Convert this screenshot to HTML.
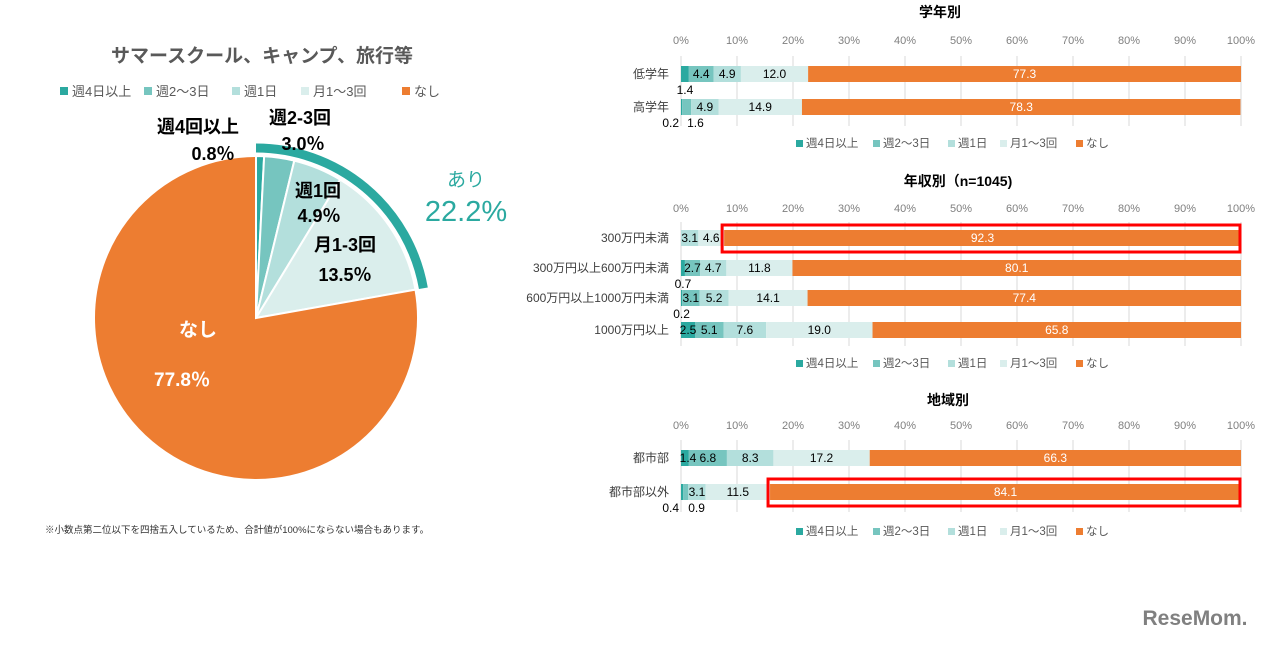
<!DOCTYPE html>
<html><head><meta charset="utf-8">
<style>
body{margin:0;background:#fff;width:1280px;height:642px;overflow:hidden;font-family:"Liberation Sans","Noto Sans CJK JP",sans-serif;}
svg text{font-family:"Liberation Sans","Noto Sans CJK JP",sans-serif;}
</style></head>
<body>
<svg id="chart" width="1280" height="642" viewBox="0 0 1280 642" xmlns="http://www.w3.org/2000/svg">
<text x="262" y="62" text-anchor="middle" font-size="19" font-weight="bold" fill="#595959">サマースクール、キャンプ、旅行等</text>
<g id="pieLegend"></g>
<g id="pie"></g>
<text x="198" y="133" text-anchor="middle" font-size="18" font-weight="bold" fill="#000">週4回以上</text>
<text x="213" y="160" text-anchor="middle" font-size="18" font-weight="bold" fill="#000">0.8％</text>
<text x="300" y="124" text-anchor="middle" font-size="18" font-weight="bold" fill="#000">週2-3回</text>
<text x="303" y="150" text-anchor="middle" font-size="18" font-weight="bold" fill="#000">3.0％</text>
<text x="318" y="197" text-anchor="middle" font-size="18" font-weight="bold" fill="#000">週1回</text>
<text x="319" y="222" text-anchor="middle" font-size="18" font-weight="bold" fill="#000">4.9％</text>
<text x="345" y="251" text-anchor="middle" font-size="18" font-weight="bold" fill="#000">月1-3回</text>
<text x="345" y="281" text-anchor="middle" font-size="18" font-weight="bold" fill="#000">13.5％</text>
<text x="198" y="336" text-anchor="middle" font-size="19" font-weight="bold" fill="#fff">なし</text>
<text x="182" y="386" text-anchor="middle" font-size="19" font-weight="bold" fill="#fff">77.8％</text>
<text x="466" y="186" text-anchor="middle" font-size="19" fill="#2BA9A0">あり</text>
<text x="466" y="221" text-anchor="middle" font-size="29" fill="#2BA9A0">22.2%</text>
<text x="45" y="533" font-size="9.5" fill="#333">※小数点第二位以下を四捨五入しているため、合計値が100%にならない場合もあります。</text>
<g id="bars"></g>
<text x="1195" y="625" text-anchor="middle" font-size="21" font-weight="bold" fill="#808080">ReseMom.</text>
</svg>
<script>
const seriesNames = ["週4日以上","週2〜3日","週1日","月1〜3回","なし"];
const colors = ["#2BA9A0","#76C5BF","#B3DFDC","#DAEEEC","#ED7D31"];
const pieValues = [0.8,3.0,4.9,13.5,77.8];
const pieLegendNames = ["週4日以上","週2〜3日","週1日","月1〜3回","なし"];
const gradeCats = ["低学年","高学年"];
const gradeVals = [[1.4,4.4,4.9,12.0,77.3],[0.2,1.6,4.9,14.9,78.3]];
const incomeCats = ["300万円未満","300万円以上600万円未満","600万円以上1000万円未満","1000万円以上"];
const incomeVals = [[0,0,3.1,4.6,92.3],[0.7,2.7,4.7,11.8,80.1],[0.2,3.1,5.2,14.1,77.4],[2.5,5.1,7.6,19.0,65.8]];
const regionCats = ["都市部","都市部以外"];
const regionVals = [[1.4,6.8,8.3,17.2,66.3],[0.4,0.9,3.1,11.5,84.1]];
const tickLabels = ["0%","10%","20%","30%","40%","50%","60%","70%","80%","90%","100%"];

const NS="http://www.w3.org/2000/svg";
function mk(tag,attrs,parent,txt){const e=document.createElementNS(NS,tag);for(const k in attrs)e.setAttribute(k,attrs[k]);if(txt!==undefined)e.textContent=txt;parent.appendChild(e);return e;}

const pl=document.getElementById('pieLegend');
const plx=[60,144,232,301,402];
pieLegendNames.forEach((n,i)=>{
  const r=mk('rect',{x:plx[i],y:87,width:8,height:8,fill:colors[i]},pl);
  
  
  const t=mk('text',{x:plx[i]+12,y:96,'font-size':13,fill:'#595959'},pl,n);
  
  
});

const pie=document.getElementById('pie');
const cx=256,cy=318,R=162;
const total=pieValues.reduce((a,b)=>a+b,0);
let acc=0;
function pt(a,r){return [cx+r*Math.sin(a),cy-r*Math.cos(a)];}
pieValues.forEach((v,i)=>{
  const a0=acc/total*2*Math.PI;acc+=v;const a1=acc/total*2*Math.PI;
  const p0=pt(a0,R),p1=pt(a1,R);const large=(a1-a0)>Math.PI?1:0;
  const p=mk('path',{d:`M${cx},${cy}L${p0[0]},${p0[1]}A${R},${R} 0 ${large} 1 ${p1[0]},${p1[1]}Z`,fill:colors[i],stroke:'#fff','stroke-width':2},pie);
  
  
});
const ariSum=pieValues.slice(0,4).reduce((a,b)=>a+b,0);
const aEnd=ariSum/total*2*Math.PI;const Ra=170;
const q0=pt(0,Ra),q1=pt(aEnd,Ra);
const arc=mk('path',{d:`M${q0[0]},${q0[1]}A${Ra},${Ra} 0 0 1 ${q1[0]},${q1[1]}`,fill:'none',stroke:'#2BA9A0','stroke-width':9},pie);



const bars=document.getElementById('bars');
const X0=681,X1=1241;
const xs=v=>X0+(X1-X0)*v/100;
function section(title,titleX,titleY,tickY,gridTop,gridBot,cats,vals,rowY,legY,name,insideFirst){
  const g=mk('g',{},bars);
  
  
  const t=mk('text',{x:titleX,y:titleY,'font-size':14,'font-weight':'bold',fill:'#000','text-anchor':'middle'},g,title);
  
  
  tickLabels.forEach((l,i)=>{
    const x=xs(i*10);
    const ln=mk('line',{x1:x,x2:x,y1:gridTop,y2:gridBot,stroke:'#d9d9d9','stroke-width':1},g);
    
    
    const tt=mk('text',{x:x,y:tickY,'font-size':11,fill:'#7f7f7f','text-anchor':'middle'},g,l);
    
    
  });
  const rectG=mk('g',{},g);
  const labG=mk('g',{},g);
  cats.forEach((c,ri)=>{
    const y=rowY[ri];
    const ct=mk('text',{x:X0-12,y:y+4,'font-size':12,fill:'#404040','text-anchor':'end'},g,c);
    
    
    let a=0;
    vals[ri].forEach((v,si)=>{
      const x0=xs(a);a+=v;const x1=xs(a);
      const r=mk('rect',{x:x0,y:y-8,width:Math.max(0,x1-x0),height:16,fill:colors[si]},rectG);
      
      
      if(v<=0)return;
      let lx=(x0+x1)/2,ly=y+4,anchor='middle',fill=si===4?'#fff':'#000';
      const inside = insideFirst && insideFirst[ri] && si===0;
      if(v<2 && !inside){ly=y+20;
        const nxt=vals[ri][si+1];
        if(si===0&&nxt<2&&nxt>0){lx=x0-2;anchor='end';}
        else if(si===1&&vals[ri][0]<2&&vals[ri][0]>0){lx=x0+5;anchor='start';}
      } else if(inside){lx=x0+7;}
      const vt=mk('text',{x:lx,y:ly,'font-size':12,fill:fill,'text-anchor':anchor},labG,v.toFixed(1));
      
      
    });
  });
  const lx=[796,873,948,1000,1076];
  seriesNames.forEach((n,i)=>{
    const r=mk('rect',{x:lx[i],y:legY-7,width:7,height:7,fill:colors[i]},g);
    
    
    const t2=mk('text',{x:lx[i]+10,y:legY,'font-size':11.5,fill:'#595959'},g,n);
    
    
  });
  return g;
}
section("学年別",940,17,44,56,126,gradeCats,gradeVals,[74,107],147,"grade-chart");
section("年収別（n=1045)",958,186,212,222,346,incomeCats,incomeVals,[238,268,298,330],367,"income-chart");
section("地域別",948,405,429,440,512,regionCats,regionVals,[458,492],535,"region-chart",[true,false]);
const hb=[[238,incomeVals[0]],[492,regionVals[1]]];
hb.forEach(h=>{
  const v=h[1];const start=v.slice(0,4).reduce((a,b)=>a+b,0);
  const r=mk('rect',{x:xs(start)-2,y:h[0]-13,width:xs(100)-xs(start)+1,height:27,fill:'none',stroke:'#FF0000','stroke-width':3},bars);
  
  
});
</script>
</body></html>
